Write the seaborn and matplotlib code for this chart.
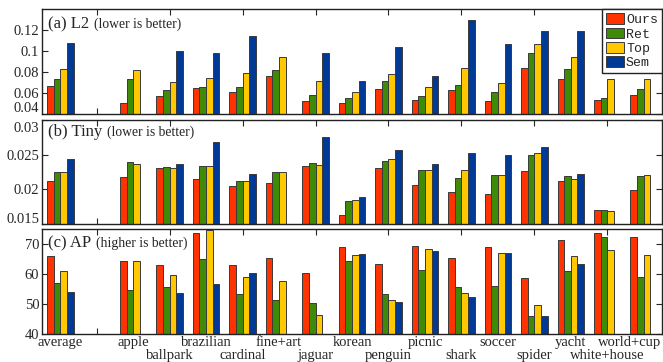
import numpy as np
import pandas as pd
import matplotlib
matplotlib.use("Agg")
import matplotlib.pyplot as plt
import matplotlib.transforms as mtransforms
import seaborn as sns

# ---- data -------------------------------------------------------------
categories = ["average", "", "apple", "ballpark", "brazilian", "cardinal",
              "fine+art", "jaguar", "korean", "penguin", "picnic", "shark",
              "soccer", "spider", "yacht", "white+house", "world+cup"]
methods = ["Ours", "Ret", "Top", "Sem"]
nan = np.nan

l2_ours = [0.0670, nan, 0.0508, 0.0571, 0.0648, 0.0613, 0.0759, 0.0527, 0.0502,
           0.0635, 0.0533, 0.0625, 0.0527, 0.0841, 0.0737, 0.0533, 0.0584]
l2_ret = [0.0733, nan, 0.0730, 0.0632, 0.0654, 0.0654, 0.0819, 0.0581, 0.0549,
          0.0714, 0.0571, 0.0673, 0.0613, 0.0978, 0.0832, 0.0556, 0.0638]
l2_top = [0.0829, nan, 0.0816, 0.0702, 0.0740, 0.0787, 0.0943, 0.0714, 0.0613,
          0.0784, 0.0660, 0.0835, 0.0692, 0.1067, 0.0940, 0.0730, 0.0730]
l2_sem = [0.1076, nan, nan, 0.1003, 0.0984, 0.1146, nan, 0.0978, 0.0714,
          0.1038, 0.0765, 0.1300, 0.1073, 0.1194, 0.1194, nan, nan]

tiny_ours = [0.0211, nan, 0.0217, 0.0230, 0.0215, 0.0204, 0.0209, 0.0233, 0.0163,
             0.0231, 0.0206, 0.0196, 0.0193, 0.0226, 0.0211, 0.0170, 0.0199]
tiny_ret = [0.0225, nan, 0.0239, 0.0232, 0.0233, 0.0211, 0.0224, 0.0237, 0.0183,
            0.0240, 0.0228, 0.0216, 0.0220, 0.0250, 0.0219, 0.0170, 0.0219]
tiny_top = [0.0224, nan, 0.0236, 0.0230, 0.0233, 0.0212, 0.0225, 0.0235, 0.0184,
            0.0243, 0.0227, 0.0227, 0.0220, 0.0252, 0.0215, 0.0168, 0.0220]
tiny_sem = [0.0244, nan, nan, 0.0236, 0.0268, 0.0222, nan, 0.0276, 0.0189,
            0.0257, 0.0236, 0.0252, 0.0249, 0.0261, 0.0222, nan, nan]

ap_ours = [66.1, nan, 64.2, 63.1, 73.6, 63.0, 65.2, 60.3, 69.1,
           63.3, 69.3, 65.2, 69.1, 58.7, 71.3, 73.8, 72.2]
ap_ret = [57.0, nan, 54.6, 55.7, 64.9, 53.5, 51.3, 50.3, 64.2,
          53.5, 61.5, 55.7, 56.0, 45.9, 61.0, 72.2, 59.1]
ap_top = [61.1, nan, 64.4, 59.7, 74.6, 59.0, 57.6, 46.2, 66.4,
          51.3, 68.5, 53.6, 67.1, 49.6, 66.0, 68.0, 66.4]
ap_sem = [54.1, nan, nan, 53.6, 56.6, 60.4, nan, nan, 66.6,
          50.6, 67.7, 52.5, 66.9, 45.9, 63.2, nan, nan]

panel_tags = ["(a) L2", "(b) Tiny", "(c) AP"]
panel_notes = ["(lower is better)", "(lower is better)", "(higher is better)"]
panel_ylims = [(0.04, 0.14), (0.015, 0.03), (40, 75)]
panel_yticks = [[0.04, 0.06, 0.08, 0.10, 0.12], [0.015, 0.02, 0.025, 0.03], [40, 50, 60, 70]]
panel_yticklabels = [["0.04", "0.06", "0.08", "0.1", "0.12"],
                     ["0.015", "0.02", "0.025", "0.03"],
                     ["40", "50", "60", "70"]]
panel_series = [
    [l2_ours, l2_ret, l2_top, l2_sem],
    [tiny_ours, tiny_ret, tiny_top, tiny_sem],
    [ap_ours, ap_ret, ap_top, ap_sem],
]

colors = ["#FF3300", "#3F8A06", "#FFC800", "#003A96"]

# ---- style ------------------------------------------------------------
sns.set_style("white")
plt.rcParams["font.family"] = ["Liberation Serif", "DejaVu Serif"]
plt.rcParams["axes.linewidth"] = 1.0
plt.rcParams["axes.edgecolor"] = "#222222"

fig = plt.figure(figsize=(6.63, 3.62), dpi=100)
W, H = 663.0, 362.0
left, right = 42 / W, 662 / W
boxes = [(9.3, 114.0), (120.0, 223.5), (229.0, 334.0)]


def shift(label, dx_pt, dy_pt):
    label.set_transform(label.get_transform() +
                        mtransforms.ScaledTranslation(dx_pt / 72, dy_pt / 72,
                                                      fig.dpi_scale_trans))


for i, (top_px, bot_px) in enumerate(boxes):
    ax = fig.add_axes([left, 1 - bot_px / H, right - left, (bot_px - top_px) / H])
    series = panel_series[i]
    df = pd.DataFrame({
        "category": np.repeat([categories], len(methods), axis=0).ravel(),
        "method": np.repeat(methods, len(categories)),
        "value": np.concatenate([np.asarray(s, dtype=float) for s in series]),
    })
    sns.barplot(data=df, x="category", y="value", hue="method",
                order=categories, hue_order=methods, palette=colors,
                saturation=1, width=0.73, gap=0, errorbar=None, ax=ax,
                edgecolor="#3a3a3a", linewidth=0.7, legend=(i == 0))

    ax.set_xlim(-0.5, len(categories) - 0.5)
    ax.set_ylim(*panel_ylims[i])
    ax.set_xlabel("")
    ax.set_ylabel("")
    ax.set_yticks(panel_yticks[i])
    ax.set_yticklabels(panel_yticklabels[i], fontsize=10.5)
    ax.tick_params(axis="y", which="major", direction="in", length=4,
                   left=True, right=True, pad=2, width=0.8)

    # labels alternate between two rows; tick marks sit on the odd slots
    ax.set_xticks(range(0, len(categories), 2))
    ax.set_xticks(range(1, len(categories), 2), minor=True)
    ax.tick_params(axis="x", which="major", length=0, pad=1.5)
    ax.tick_params(axis="x", which="minor", direction="in", length=4,
                   top=True, bottom=True, pad=11, width=0.8)
    if i == 2:
        ax.set_xticklabels(categories[0::2], fontsize=10.5)
        ax.set_xticklabels(categories[1::2], minor=True, fontsize=10.5)
        # pull the last label inside the figure edge
        shift(ax.get_xticklabels()[-1], -10, 0)
    else:
        ax.set_xticklabels([])
        ax.set_xticklabels([], minor=True)

    for sp in ax.spines.values():
        sp.set_visible(True)
        sp.set_color("#222222")
        sp.set_linewidth(1.0)

    # keep edge labels clear of the neighbouring panels
    ylabels = ax.get_yticklabels()
    if i == 0:
        shift(ylabels[0], 0, 5)
    if i == 1:
        shift(ylabels[0], 0, 4)
        shift(ylabels[-1], 0, -5)

    tag_y = [0.86, 0.885, 0.86][i]
    tag = ax.text(0.010, tag_y, panel_tags[i], transform=ax.transAxes,
                  fontsize=12, va="center", ha="left")
    ax.annotate(panel_notes[i], xy=(1, 0.5), xycoords=tag, xytext=(3.5, 0),
                textcoords="offset points", va="center", ha="left", fontsize=9.8)

    if i == 0:
        handles, labels = ax.get_legend_handles_labels()
        ax.get_legend().remove()
        leg = ax.legend(handles, labels, loc="upper right",
                        bbox_to_anchor=(1.0, 1.0), borderaxespad=0.0,
                        prop={"family": ["Liberation Mono", "DejaVu Sans Mono"], "size": 9.5},
                        handlelength=1.35, handleheight=0.85, handletextpad=0.15,
                        labelspacing=0.12, borderpad=0.3, fancybox=False,
                        framealpha=1, edgecolor="#222222")
        leg.get_frame().set_linewidth(1.0)

fig.savefig("out.png", dpi=100)
